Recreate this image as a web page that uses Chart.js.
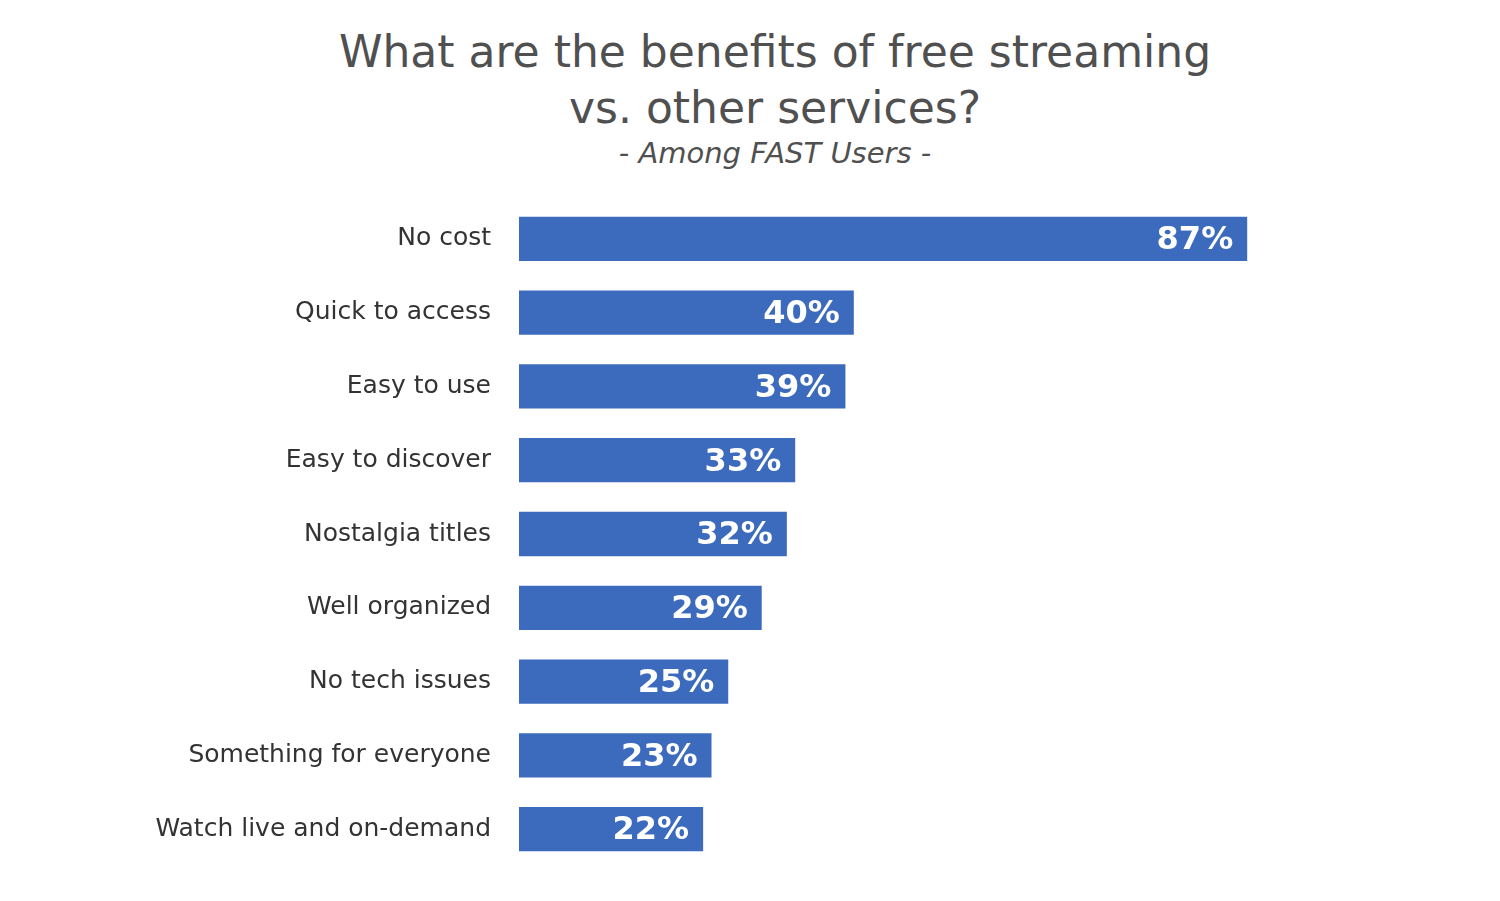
<!DOCTYPE html>
<html>
<head>
<meta charset="utf-8">
<script src="https://cdn.jsdelivr.net/npm/chart.js@4/dist/chart.umd.min.js"></script>
<style>
  html, body { margin: 0; padding: 0; background: #fff; }
  #wrap { position: relative; width: 1500px; height: 901px; }
  #title { position: absolute; top: 24px; left: 0; width: 1550px; text-align: center;
    font-family: "DejaVu Sans", sans-serif; color: #505050; font-size: 44px; line-height: 56px; }
  #sub { position: absolute; top: 136px; left: 0; width: 1550px; text-align: center;
    font-family: "DejaVu Sans", sans-serif; font-style: italic; color: #505050; font-size: 29px; }
  canvas { position: absolute; top: 0; left: 0; }
</style>
</head>
<body>
<div id="wrap">
  <div id="title">What are the benefits of free streaming<br>vs. other services?</div>
  <div id="sub">- Among FAST Users -</div>
  <canvas id="chart" width="1500" height="901"></canvas>
</div>
<script>
const categories = ['No cost', 'Quick to access', 'Easy to use', 'Easy to discover', 'Nostalgia titles',
  'Well organized', 'No tech issues', 'Something for everyone', 'Watch live and on-demand'];
const values = [87, 40, 39, 33, 32, 29, 25, 23, 22];

// draw "87%" etc. inside the bar end
const barLabels = {
  id: 'barLabels',
  afterDatasetsDraw(chart) {
    const ctx = chart.ctx;
    const meta = chart.getDatasetMeta(0);
    ctx.save();
    ctx.fillStyle = '#fff';
    ctx.font = 'bold 32px "DejaVu Sans", sans-serif';
    ctx.textAlign = 'right';
    ctx.textBaseline = 'middle';
    meta.data.forEach((bar, i) => {
      ctx.fillText(values[i] + '%', bar.x - 14, bar.y + 2);
    });
    ctx.restore();
  }
};

new Chart(document.getElementById('chart'), {
  type: 'bar',
  data: {
    labels: categories,
    datasets: [{
      data: values,
      backgroundColor: '#3c6bbd',
      categoryPercentage: 1,
      barPercentage: 0.6
    }]
  },
  options: {
    indexAxis: 'y',
    responsive: false,
    animation: false,
    layout: { padding: { top: 202, bottom: -6, right: 144 } },
    plugins: { legend: { display: false }, tooltip: { enabled: false } },
    scales: {
      x: { display: false, min: 0, max: 100 },
      y: {
        grid: { display: false },
        border: { display: false },
        afterFit(scale) { scale.width = 519; },
        ticks: {
          padding: 20,
          color: '#333',
          font: { family: '"DejaVu Sans", sans-serif', size: 25 }
        }
      }
    }
  },
  plugins: [barLabels]
});
</script>
</body>
</html>
